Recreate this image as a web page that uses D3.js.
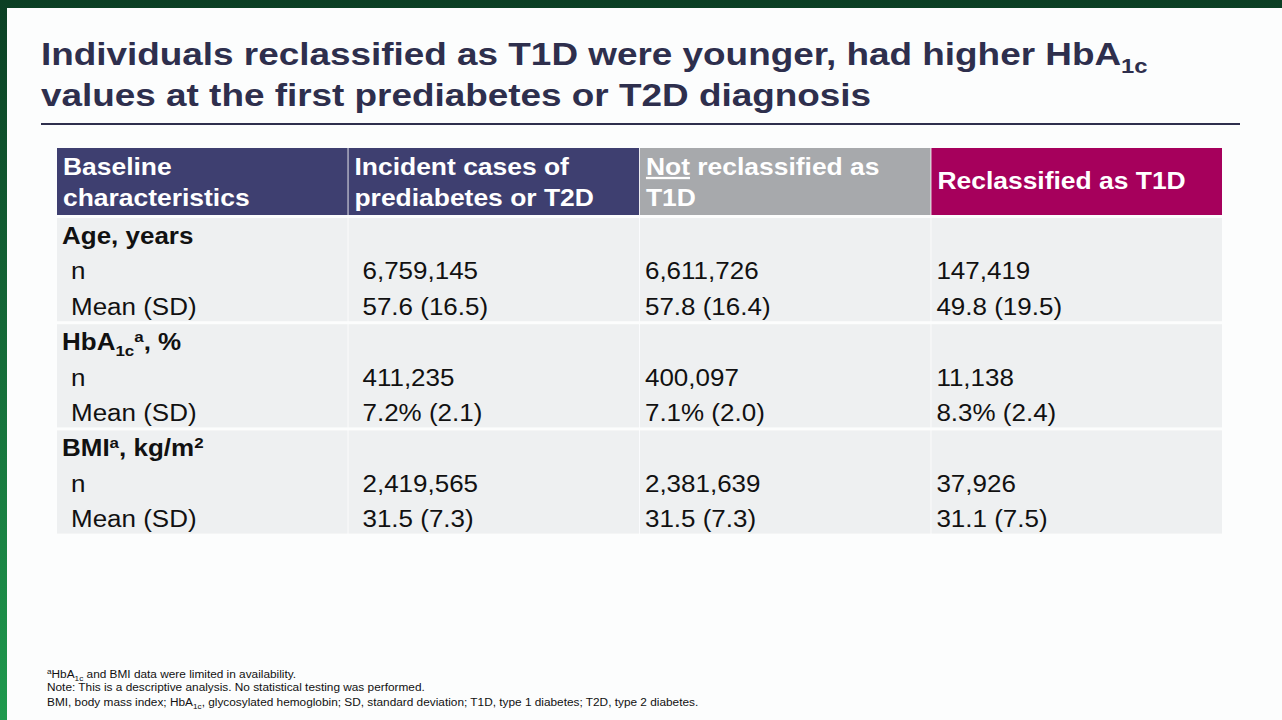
<!DOCTYPE html>
<html><head><meta charset="utf-8">
<script src="https://cdn.jsdelivr.net/npm/d3@7"></script>
<style>body{margin:0;background:#0b4a2a;font-family:"Liberation Sans",Arial,sans-serif}</style>
</head><body>
<svg id="c" width="1282" height="720"></svg>
<script>
const headers = ["Baseline|characteristics","Incident cases of|prediabetes or T2D","Not reclassified as|T1D","Reclassified as T1D"];
const headerColors = ["#3e3f70","#3e3f70","#a7a9ac","#a6005c"];
const groups = ["Age","HbA","BMI"];
const rowLabels = ["n","Mean (SD)"];
const incident = [["6,759,145","57.6 (16.5)"],["411,235","7.2% (2.1)"],["2,419,565","31.5 (7.3)"]];
const notReclass = [["6,611,726","57.8 (16.4)"],["400,097","7.1% (2.0)"],["2,381,639","31.5 (7.3)"]];
const reclass = [["147,419","49.8 (19.5)"],["11,138","8.3% (2.4)"],["37,926","31.1 (7.5)"]];
const footnotes = ["Note: This is a descriptive analysis. No statistical testing was performed."];

const svg = d3.select("#c");
function T(x,y,sx){ return svg.append("text").attr("x",0).attr("y",y).attr("transform",`translate(${x},0) scale(${sx},1)`); }
const defs = svg.append("defs");
const g1 = defs.append("linearGradient").attr("id","bg").attr("x1",0).attr("x2",0).attr("y1",0).attr("y2",1);
g1.append("stop").attr("offset","0").attr("stop-color","#0b3f24");
g1.append("stop").attr("offset","1").attr("stop-color","#1f9a4e");
svg.append("rect").attr("width",1282).attr("height",720).attr("fill","url(#bg)");
svg.append("rect").attr("x",7).attr("y",8).attr("width",1275).attr("height",712).attr("fill","#fcfdfd");

const title = T(41,0,1.19).attr("fill","#2e2f4d").attr("font-weight","bold").attr("font-size",31);
const t1 = title.append("tspan").attr("x",0).attr("y",65).text("Individuals reclassified as T1D were younger, had higher HbA");
t1.append("tspan").attr("font-size",20).attr("dy",8).text("1c");
title.append("tspan").attr("x",0).attr("y",106).text("values at the first prediabetes or T2D diagnosis");
svg.append("line").attr("x1",41).attr("x2",1240).attr("y1",124).attr("y2",124).attr("stroke","#2e2f4d").attr("stroke-width",2);

const x = d3.scaleBand().domain(d3.range(4)).range([57,1222]).paddingInner(0.003);
const headTop=148, headH=67, bodyTop=218, rowH=35.4;
const y = d3.scaleLinear().domain([0,1]).range([bodyTop, bodyTop+rowH]);
const SB=1.13, SH=1.15;

headers.forEach((h,i)=>{
  svg.append("rect").attr("x",x(i)).attr("y",headTop).attr("width",x.bandwidth()).attr("height",headH).attr("fill",headerColors[i]);
  const lines=h.split("|");
  const tx = T(x(i)+6,0,SH).attr("fill","#fff").attr("font-weight","bold").attr("font-size",23);
  lines.forEach((l,j)=>{
    const yy = lines.length===1 ? headTop+headH/2+8 : headTop+27+j*31;
    const ts = tx.append("tspan").attr("x",0).attr("y",yy);
    if(i===2 && j===0){ ts.append("tspan").attr("text-decoration","underline").text("Not"); ts.append("tspan").text(l.slice(3)); }
    else ts.text(l);
  });
});

const colOff=[14,5,5];
groups.forEach((gname,gi)=>{
  const top = y(gi*3), bot = y(gi*3+3)-3;
  d3.range(4).forEach(i=>{
    svg.append("rect").attr("x",x(i)).attr("y",top).attr("width",x.bandwidth()).attr("height",bot-top).attr("fill","#eef0f1");
  });
  const gt = T(x(0)+5,y(gi*3)+26,SB).attr("font-weight","bold").attr("font-size",23).attr("fill","#111");
  if(gname==="Age") gt.text("Age, years");
  else if(gname==="HbA"){ gt.append("tspan").text("HbA"); gt.append("tspan").attr("font-size",15).attr("dy",6).text("1c");
    gt.append("tspan").attr("font-size",15).attr("dy",-14).text("a"); gt.append("tspan").attr("dy",8).text(", %"); }
  else { gt.append("tspan").text("BMI"); gt.append("tspan").attr("font-size",15).attr("dy",-8).text("a");
    gt.append("tspan").attr("dy",8).text(", kg/m"); gt.append("tspan").attr("font-size",15).attr("dy",-8).text("2"); }
  rowLabels.forEach((rl,ri)=>{
    const ry = y(gi*3+1+ri)+26;
    T(x(0)+14,ry,SB).attr("font-size",23).attr("fill","#111").text(rl);
    [incident,notReclass,reclass].forEach((arr,ci)=>{
      T(x(ci+1)+colOff[ci],ry,SB).attr("font-size",23).attr("fill","#111").text(arr[gi][ri]);
    });
  });
});

const fs=11.5, fc="#111", SF=1.03;
const f1 = T(47,678,SF).attr("font-size",fs).attr("fill",fc);
f1.append("tspan").attr("font-size",8).attr("dy",-4).text("a");
f1.append("tspan").attr("dy",4).text("HbA"); f1.append("tspan").attr("font-size",8).attr("dy",3).text("1c");
f1.append("tspan").attr("dy",-3).text(" and BMI data were limited in availability.");
T(47,691,SF).attr("font-size",fs).attr("fill",fc).text(footnotes[0]);
const f3 = T(47,706,SF).attr("font-size",fs).attr("fill",fc);
f3.append("tspan").text("BMI, body mass index; HbA"); f3.append("tspan").attr("font-size",8).attr("dy",3).text("1c");
f3.append("tspan").attr("dy",-3).text(", glycosylated hemoglobin; SD, standard deviation; T1D, type 1 diabetes; T2D, type 2 diabetes.");
</script>
</body></html>
